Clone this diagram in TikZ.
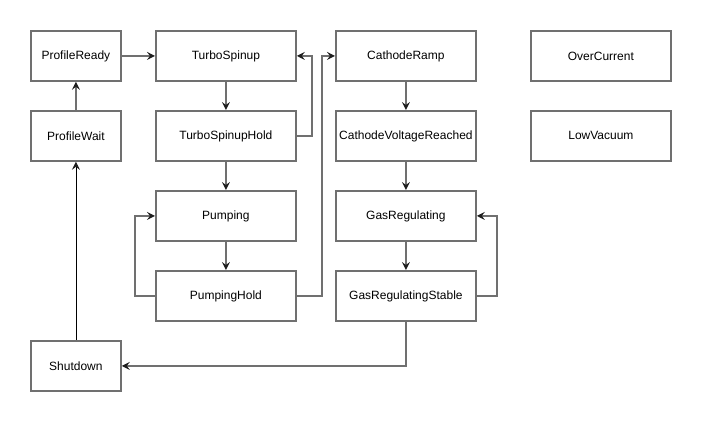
\documentclass[tikz,border=0pt]{standalone}
\usepackage{fontspec}
\setmainfont{Liberation Sans}
\usetikzlibrary{arrows.meta}
\definecolor{edge}{HTML}{707070}
\definecolor{tip}{HTML}{1E1E1E}
\tikzset{
  statebox/.style={draw=edge, line width=1.8pt, minimum width=#1, minimum height=50pt, inner sep=0pt, font=\fontsize{12pt}{14pt}\selectfont, anchor=north west},
  statebox/.default=140pt,
  conn/.style={draw=edge, line width=1.6pt, -{Stealth[length=8pt,width=8pt,inset=3pt,fill=tip,color=tip]}},
  thinconn/.style={draw=black, line width=0.7pt, -{Stealth[length=8pt,width=8pt,inset=3pt,fill=tip,color=tip]}}
}
\begin{document}
\begin{tikzpicture}[x=1pt,y=-1pt]
\useasboundingbox (0,0) rectangle (702,422);
\node[statebox=90pt] (pr) at (30,30) {ProfileReady};
\node[statebox] (ts) at (155,30) {TurboSpinup};
\node[statebox] (cr) at (335,30) {CathodeRamp};
\node[statebox] (oc) at (530,30) {OverCurrent};
\node[statebox=90pt] (pw) at (30,110) {ProfileWait};
\node[statebox] (tsh) at (155,110) {TurboSpinupHold};
\node[statebox] (cvr) at (335,110) {CathodeVoltageReached};
\node[statebox] (lv) at (530,110) {LowVacuum};
\node[statebox] (pu) at (155,190) {Pumping};
\node[statebox] (gr) at (335,190) {GasRegulating};
\node[statebox] (ph) at (155,270) {PumpingHold};
\node[statebox] (grs) at (335,270) {GasRegulatingStable};
\node[statebox=90pt] (sd) at (30,340) {Shutdown};

\draw[conn] (pr.east) -- (ts.west);
\draw[conn] (pw.north) -- (pr.south);
\draw[thinconn] (sd.north) -- (pw.south);
\draw[conn] (ts.south) -- (tsh.north);
\draw[conn] (tsh.east) -- ++(15,0) |- (ts.east);
\draw[conn] (tsh.south) -- (pu.north);
\draw[conn] (pu.south) -- (ph.north);
\draw[conn] (ph.west) -- ++(-20,0) |- (pu.west);
\draw[conn] (ph.east) -- ++(25,0) |- (cr.west);
\draw[conn] (cr.south) -- (cvr.north);
\draw[conn] (cvr.south) -- (gr.north);
\draw[conn] (gr.south) -- (grs.north);
\draw[conn] (grs.east) -- ++(20,0) |- (gr.east);
\draw[conn] (grs.south) |- (sd.east);
\end{tikzpicture}
\end{document}
